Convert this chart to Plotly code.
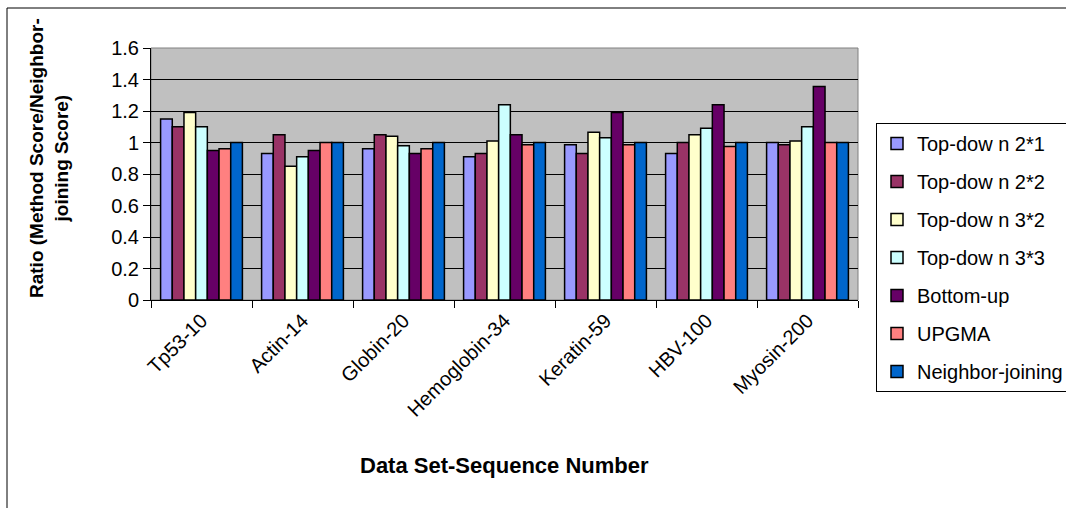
import plotly.graph_objects as go

categories = ["Tp53-10", "Actin-14", "Globin-20", "Hemoglobin-34", "Keratin-59", "HBV-100", "Myosin-200"]
series_names = ["Top-dow n 2*1", "Top-dow n 2*2", "Top-dow n 3*2", "Top-dow n 3*3",
                "Bottom-up", "UPGMA", "Neighbor-joining"]
topdown_2_1 = [1.15, 0.93, 0.96, 0.91, 0.985, 0.93, 1.0]
topdown_2_2 = [1.10, 1.05, 1.05, 0.93, 0.93, 1.0, 0.985]
topdown_3_2 = [1.19, 0.85, 1.04, 1.01, 1.065, 1.05, 1.01]
topdown_3_3 = [1.10, 0.91, 0.98, 1.24, 1.03, 1.09, 1.10]
bottom_up = [0.95, 0.95, 0.93, 1.05, 1.19, 1.24, 1.355]
upgma = [0.96, 1.0, 0.96, 0.985, 0.985, 0.975, 1.0]
neighbor_joining = [1.0, 1.0, 1.0, 1.0, 1.0, 1.0, 1.0]
series_values = [topdown_2_1, topdown_2_2, topdown_3_2, topdown_3_3, bottom_up, upgma, neighbor_joining]
colors = ["#9999FF", "#993366", "#FFFFCC", "#CCFFFF", "#660066", "#FF8080", "#0066CC"]
y_ticks = [0, 0.2, 0.4, 0.6, 0.8, 1, 1.2, 1.4, 1.6]
y_tick_labels = ["0", "0.2", "0.4", "0.6", "0.8", "1", "1.2", "1.4", "1.6"]

FONT = "Arial, Liberation Sans, sans-serif"

fig = go.Figure()
for i, (name, vals, col) in enumerate(zip(series_names, series_values, colors)):
    fig.add_trace(go.Bar(
        x=categories, y=vals, name=name, legendgroup=f"g{i}",
        marker=dict(color=col, line=dict(color="black", width=1.5)),
    ))

L, R, T, B = 151, 1066 - 858, 48, 508 - 300
W, H = 1066 - L - R, 508 - T - B

def px_x(p):
    return (p - L) / W

def px_y(p):
    return (508 - B - p) / H

fig.update_layout(
    width=1066, height=508,
    margin=dict(l=L, r=R, t=T, b=B, pad=0, autoexpand=False),
    paper_bgcolor="white", plot_bgcolor="#C0C0C0",
    barmode="group", bargap=0.19, bargroupgap=0,
    font=dict(family=FONT, size=20, color="black"),
    showlegend=True,
    legend=dict(
        x=px_x(876), y=px_y(123), xanchor="left", yanchor="top",
        bordercolor="black", borderwidth=1, bgcolor="white",
        font=dict(family=FONT, size=20, color="black"),
        traceorder="grouped", tracegroupgap=9,
        itemwidth=30, maxheight=480,
    ),
    xaxis=dict(
        type="category", tickangle=-45, showgrid=False,
        ticks="outside", tickson="boundaries", ticklen=7, tickcolor="black",
        showline=True, linecolor="black", linewidth=1,
        tickfont=dict(family=FONT, size=20), automargin=False,
    ),
    yaxis=dict(
        range=[0, 1.6], tickvals=y_ticks, ticktext=y_tick_labels,
        showgrid=True, gridcolor="black", gridwidth=1,
        ticks="outside", ticklen=7, tickcolor="black",
        showline=True, linecolor="black", linewidth=1,
        tickfont=dict(family=FONT, size=20), zeroline=False, automargin=False,
    ),
    shapes=[
        dict(type="rect", xref="paper", yref="paper", x0=0, x1=1, y0=0, y1=1,
             line=dict(color="#808080", width=1), layer="below"),
        dict(type="rect", xref="paper", yref="paper",
             x0=px_x(7), x1=px_x(1075), y0=px_y(515), y1=px_y(8),
             line=dict(color="black", width=1)),
    ],
    annotations=[
        dict(text="<b>Data Set-Sequence Number</b>", xref="paper", yref="paper",
             x=px_x(504), y=px_y(466), xanchor="center", yanchor="middle", showarrow=False,
             font=dict(family=FONT, size=22)),
        dict(text="<b>Ratio (Method Score/Neighbor-<br>joining Score)</b>", xref="paper", yref="paper",
             x=px_x(49), y=px_y(158), xanchor="center", yanchor="middle", showarrow=False, textangle=-90,
             font=dict(family=FONT, size=19)),
    ],
)

fig.write_html("out.html", config={"displayModeBar": False},
               post_script="document.body.style.margin='0';")
